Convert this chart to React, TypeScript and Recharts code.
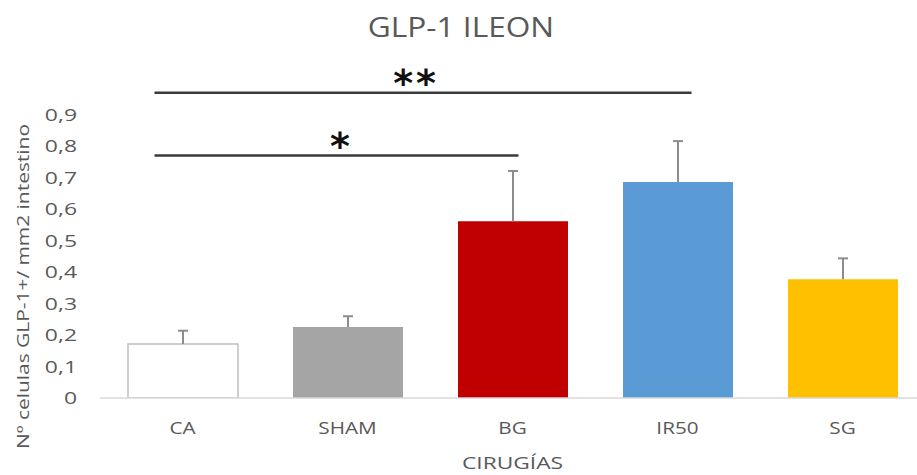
import { BarChart, Bar, XAxis, YAxis, Cell, ReferenceLine } from "recharts";

const categories = ["CA", "SHAM", "BG", "IR50", "SG"];
const means = [0.172, 0.226, 0.562, 0.687, 0.378];
const errors = [0.042, 0.034, 0.16, 0.13, 0.066];
const fills = ["#ffffff", "#a5a5a5", "#c00000", "#5b9bd5", "#ffc000"];
const yTicks = [0, 0.1, 0.2, 0.3, 0.4, 0.5, 0.6, 0.7, 0.8, 0.9];

const data = categories.map((name, i) => ({
  name,
  value: means[i],
  err: errors[i],
}));

const FONT = "'Open Sans', sans-serif";
const GREY = "#595959";
const BAR_W = 110;

const fmt = (v: number) => String(v).replace(".", ",");

// the source picture is stretched sideways, so the text is widened a bit
const XTick = (props: any) => {
  const { x, y, payload } = props;
  return (
    <text
      transform={`translate(${x},${y}) scale(1.22,1)`}
      textAnchor="middle"
      dy="0.71em"
      fill={GREY}
      fontSize={17}
      fontFamily={FONT}
    >
      {payload.value}
    </text>
  );
};

const YTick = (props: any) => {
  const { x, y, payload } = props;
  return (
    <text
      transform={`translate(${x},${y}) scale(1.35,1)`}
      textAnchor="end"
      dy="0.355em"
      fill={GREY}
      fontSize={17}
      fontFamily={FONT}
    >
      {fmt(payload.value)}
    </text>
  );
};

const XTitle = (props: any) => {
  const { viewBox } = props;
  const cx = viewBox.x + viewBox.width / 2;
  return (
    <text
      transform={`translate(${cx},${viewBox.y + 71}) scale(1.34,1)`}
      textAnchor="middle"
      fill={GREY}
      fontSize={17}
      fontFamily={FONT}
    >
      CIRUGÍAS
    </text>
  );
};

const YTitle = (props: any) => {
  const { viewBox } = props;
  const cy = viewBox.y + viewBox.height / 2 + 30;
  return (
    <text
      transform={`translate(${viewBox.x + 23},${cy}) rotate(-90) scale(1.23,1)`}
      textAnchor="middle"
      dy="0.35em"
      fill={GREY}
      fontSize={17}
      fontFamily={FONT}
    >
      Nº celulas GLP-1+/ mm2 intestino
    </text>
  );
};

// plus-only error bar: stacked on top of the mean, drawn as stem + cap
const ErrShape = (props: any) => {
  const { x, y, width, height } = props;
  const cx = x + width / 2;
  return (
    <g stroke="#8c8c8c" strokeWidth={2}>
      <line x1={cx} x2={cx} y1={y + height} y2={y} />
      <line x1={cx - 5} x2={cx + 5} y1={y} y2={y} />
    </g>
  );
};

// significance bar, stretched a little past the category centres like the original
const SigLine = (extraLeft: number, extraRight: number) => (props: any) => {
  const { x1, x2, y1 } = props;
  return (
    <line
      x1={x1 - extraLeft}
      x2={x2 + extraRight}
      y1={y1}
      y2={y1}
      stroke="#3a3a3a"
      strokeWidth={2.5}
    />
  );
};

const starLabel = (value: string, dx: number, offset: number) => ({
  value,
  position: "top" as const,
  offset,
  fill: "#111",
  fontSize: 38,
  fontWeight: "bold",
  fontFamily: "'DejaVu Sans', sans-serif",
  letterSpacing: 3,
  dx,
});

const App = () => {
  return (
    <div
      style={{
        position: "absolute",
        left: 0,
        top: 0,
        width: 917,
        height: 475,
        overflow: "hidden",
        background: "#fff",
      }}
    >
      <svg
        width={917}
        height={50}
        style={{ position: "absolute", left: 0, top: 0 }}
      >
        <text
          transform="translate(461,37) scale(1.13,1)"
          textAnchor="middle"
          fill={GREY}
          fontSize={28}
          fontFamily={FONT}
        >
          GLP-1 ILEON
        </text>
      </svg>
      <BarChart
        width={935}
        height={475}
        data={data}
        margin={{ top: 115, right: 10, bottom: 17, left: 0 }}
        barSize={BAR_W}
        style={{ position: "absolute", left: 0, top: 0 }}
      >
        <XAxis
          dataKey="name"
          height={60}
          tickLine={false}
          tickSize={0}
          tickMargin={24}
          axisLine={{ stroke: "#d9d9d9", strokeWidth: 1.5 }}
          tick={<XTick />}
          label={{ content: <XTitle /> }}
        />
        <YAxis
          width={100}
          domain={[0, 0.9]}
          ticks={yTicks}
          interval={0}
          allowDataOverflow
          axisLine={false}
          tickLine={false}
          tickSize={0}
          tickMargin={23}
          tick={<YTick />}
          label={{ content: <YTitle /> }}
        />
        <Bar dataKey="value" stackId="s" isAnimationActive={false}>
          {data.map((d, i) => (
            <Cell
              key={d.name}
              fill={fills[i]}
              stroke={i === 0 ? "#bfbfbf" : fills[i]}
              strokeWidth={i === 0 ? 1.5 : 0}
            />
          ))}
        </Bar>
        <Bar
          dataKey="err"
          stackId="s"
          shape={<ErrShape />}
          isAnimationActive={false}
        />
        <ReferenceLine
          segment={[
            { x: "CA", y: 0.971 },
            { x: "IR50", y: 0.971 },
          ]}
          ifOverflow="visible"
          shape={SigLine(28, 14)}
          label={starLabel("**", -14, -3)}
        />
        <ReferenceLine
          segment={[
            { x: "CA", y: 0.771 },
            { x: "BG", y: 0.771 },
          ]}
          ifOverflow="visible"
          shape={SigLine(28, 6)}
          label={starLabel("*", -6, -3)}
        />
      </BarChart>
    </div>
  );
};

export default App;
